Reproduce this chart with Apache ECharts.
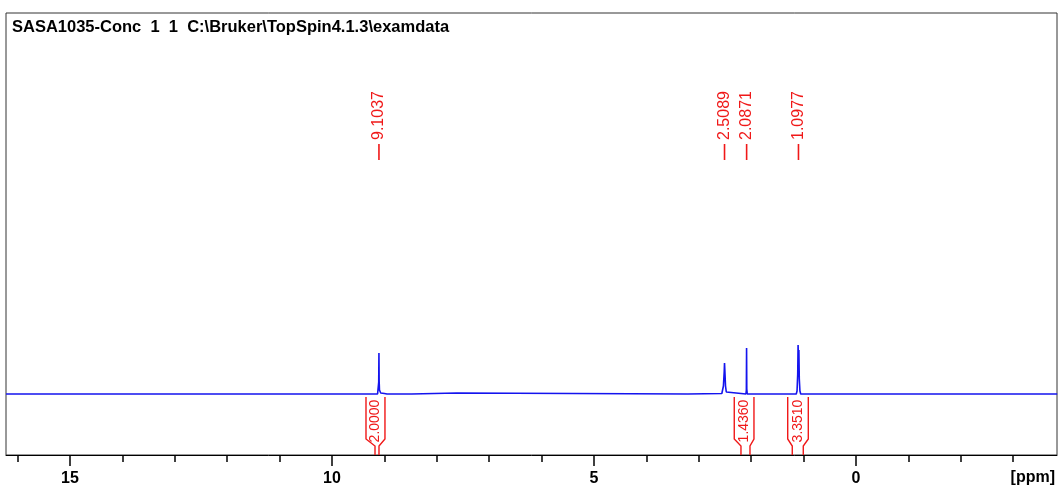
<!DOCTYPE html>
<html>
<head>
<meta charset="utf-8">
<script src="https://cdn.jsdelivr.net/npm/echarts@6/dist/echarts.min.js"></script>
<style>
  html, body { margin: 0; padding: 0; background: #fff; }
  #spectrum { width: 1059px; height: 493px; }
</style>
</head>
<body>
<div id="spectrum"></div>
<script>
// Data
var titleText = 'SASA1035-Conc  1  1  C:\\Bruker\\TopSpin4.1.3\\examdata';

var spectrumPpm = [16.22, 9.20, 9.13, 9.115, 9.108, 9.104, 9.100, 9.094, 9.07, 9.00, 8.95,
    8.48, 8.46, 7.62, 7.60, 3.21, 3.19, 2.56, 2.545, 2.53, 2.515, 2.509, 2.503, 2.49, 2.475, 2.46,
    2.10, 2.092, 2.088, 2.084, 2.075,
    1.14, 1.125, 1.112, 1.105, 1.098, 1.090, 1.082, 1.07, 1.055, -3.84];
var spectrumIntensity = [0, 0, 0, 2, 12, 41, 13, 4, 1, 0.5, 0,
    0, 1, 1, 0, 0, 0.5, 0.5, 2, 8, 22, 31, 24, 8, 2, 0,
    0, 4, 46, 5, 0,
    0, 3, 20, 49, 34, 44, 15, 3, 0, 0];

var peakPpm = [9.1037, 2.5089, 2.0871, 1.0977];
var peakLabels = ['9.1037', '2.5089', '2.0871', '1.0977'];

var integralFrom = [9.351, 2.323, 1.303];
var integralTo = [8.989, 1.947, 0.910];
var integralStemFrom = [9.179, 2.195, 1.216];
var integralStemTo = [9.103, 2.023, 1.006];
var integralValues = ['2.0000', '1.4360', '3.3510'];

var majorTicks = [15, 10, 5, 0];
var minorTicks = [16, 14, 13, 12, 11, 9, 8, 7, 6, 4, 3, 2, 1, -1, -2, -3];

var fontFamily = "'Liberation Sans', Arial, sans-serif";
var blue = '#1414ee';
var red = '#f01818';

var chart = echarts.init(document.getElementById('spectrum'));

chart.setOption({
    animation: false,
    backgroundColor: '#fff',
    title: {
        text: titleText,
        left: 12,
        top: 19,
        padding: 0,
        textStyle: {
            fontFamily: fontFamily,
            fontSize: 16.5,
            fontWeight: 'bold',
            color: '#000'
        }
    },
    graphic: [{
        type: 'text',
        right: 4,
        top: 470,
        style: {
            text: '[ppm]',
            font: 'bold 16px ' + fontFamily,
            fill: '#000'
        }
    }],
    grid: {
        left: 6,
        right: 2,
        top: 13,
        bottom: 38,
        show: true,
        borderColor: '#333',
        borderWidth: 1
    },
    xAxis: [{
        type: 'value',
        min: -3.836,
        max: 16.221,
        inverse: true,
        position: 'bottom',
        axisLine: { show: true, onZero: false, lineStyle: { color: '#000', width: 1 } },
        axisTick: { show: true, customValues: majorTicks, length: 11, lineStyle: { color: '#000', width: 1.5 } },
        axisLabel: {
            customValues: majorTicks,
            margin: 16,
            fontFamily: fontFamily,
            fontSize: 16,
            fontWeight: 'bold',
            color: '#000'
        },
        splitLine: { show: false }
    }, {
        type: 'value',
        min: -3.836,
        max: 16.221,
        inverse: true,
        position: 'bottom',
        axisLine: { show: false, onZero: false },
        axisTick: { show: true, customValues: minorTicks, length: 7, lineStyle: { color: '#000', width: 1.5 } },
        axisLabel: { show: false },
        splitLine: { show: false }
    }],
    yAxis: {
        type: 'value',
        min: -61,
        max: 381,
        show: false,
        splitLine: { show: false }
    },
    series: [{
        // spectrum trace
        type: 'line',
        xAxisIndex: 0,
        showSymbol: false,
        symbol: 'none',
        lineStyle: { color: blue, width: 1.6 },
        data: spectrumPpm.map(function (p, i) { return [p, spectrumIntensity[i]]; }),
        z: 3
    }, {
        // integral brackets
        type: 'custom',
        xAxisIndex: 0,
        data: integralFrom.map(function (f, i) {
            return [f, integralTo[i], integralStemFrom[i], integralStemTo[i], i];
        }),
        renderItem: function (params, api) {
            var i = api.value(4);
            var xl = api.coord([api.value(0), 0])[0];
            var xr = api.coord([api.value(1), 0])[0];
            var sl = api.coord([api.value(2), 0])[0];
            var sr = api.coord([api.value(3), 0])[0];
            var yTop = api.coord([0, -3])[1];
            var yShoulder = api.coord([0, -45])[1];
            var yNeck = api.coord([0, -52])[1];
            var yBottom = api.coord([0, -61])[1];
            var yText = api.coord([0, -27])[1];
            var lineStyle = { stroke: red, lineWidth: 1.4, fill: null };
            return {
                type: 'group',
                children: [{
                    type: 'polyline',
                    shape: { points: [[xl, yTop], [xl, yShoulder], [sl, yNeck], [sl, yBottom]] },
                    style: lineStyle
                }, {
                    type: 'polyline',
                    shape: { points: [[xr, yTop], [xr, yShoulder], [sr, yNeck], [sr, yBottom]] },
                    style: lineStyle
                }, {
                    type: 'text',
                    x: (xl + xr) / 2,
                    y: yText,
                    rotation: Math.PI / 2,
                    style: {
                        text: integralValues[i],
                        font: '14px ' + fontFamily,
                        fill: red,
                        align: 'center',
                        verticalAlign: 'middle'
                    }
                }]
            };
        },
        z: 4
    }, {
        // peak picking labels
        type: 'custom',
        xAxisIndex: 0,
        data: peakPpm.map(function (p, i) { return [p, i]; }),
        renderItem: function (params, api) {
            var i = api.value(1);
            var x = api.coord([api.value(0), 0])[0];
            var yDashLow = api.coord([0, 234])[1];
            var yDashHigh = api.coord([0, 250])[1];
            var yText = api.coord([0, 254])[1];
            return {
                type: 'group',
                children: [{
                    type: 'line',
                    shape: { x1: x, y1: yDashLow, x2: x, y2: yDashHigh },
                    style: { stroke: red, lineWidth: 1.6 }
                }, {
                    type: 'text',
                    x: x,
                    y: yText,
                    rotation: Math.PI / 2,
                    style: {
                        text: peakLabels[i],
                        font: '16px ' + fontFamily,
                        fill: red,
                        align: 'left',
                        verticalAlign: 'middle'
                    }
                }]
            };
        },
        z: 4
    }]
});
</script>
</body>
</html>
